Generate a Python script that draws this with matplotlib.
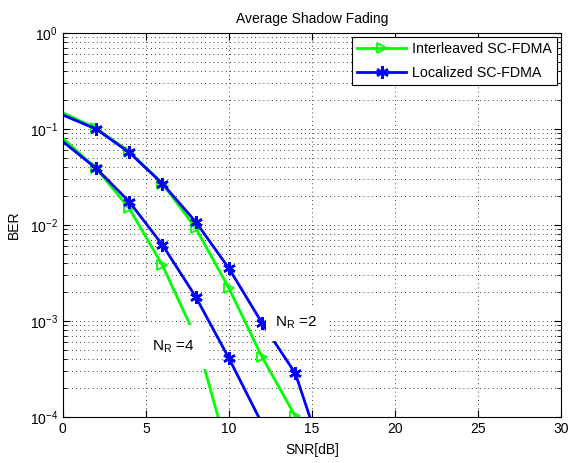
import matplotlib
matplotlib.use("Agg")
import matplotlib.pyplot as plt
from matplotlib.ticker import LogLocator, NullFormatter, FixedLocator

plt.rcParams["font.family"] = ["Liberation Sans", "DejaVu Sans"]
plt.rcParams["mathtext.fontset"] = "custom"
plt.rcParams["mathtext.rm"] = "Liberation Sans"

snr = [0, 2, 4, 6, 8, 10, 12, 14, 16]
inter_nr2 = [0.147, 0.102, 0.058, 0.027, 0.0093, 0.0022, 4.2e-4, 1.02e-4, 2.5e-5]
local_nr2 = [0.140, 0.100, 0.057, 0.027, 0.0108, 0.00354, 9.5e-4, 2.85e-4, 2.6e-5]
inter_nr4 = [0.080, 0.039, 0.0149, 0.0038, 6.8e-4, 4.0e-5, 3e-6, 2e-7, 1e-8]
local_nr4 = [0.074, 0.039, 0.0175, 0.0062, 0.00179, 4.1e-4, 8.5e-5, 1.5e-5, 2e-6]

GREEN = "#00ff00"
BLUE = "#0000ff"
ASTER = (6, 2, 0)

fig = plt.figure(figsize=(5.71, 4.63), dpi=100)
ax = fig.add_axes([0.110, 0.0994, 0.8725, 0.8293])

mk = dict(markevery=slice(1, None), linewidth=2)
ax.semilogy(snr, inter_nr2, color=GREEN, marker=">", markerfacecolor="none",
            markersize=7, markeredgewidth=1.3, label="Interleaved SC-FDMA", **mk)
ax.semilogy(snr, local_nr2, color=BLUE, marker=ASTER, markersize=9,
            markeredgewidth=1.8, label="Localized SC-FDMA", **mk)
ax.semilogy(snr, inter_nr4, color=GREEN, marker=">", markerfacecolor="none",
            markersize=7, markeredgewidth=1.3, **mk)
ax.semilogy(snr, local_nr4, color=BLUE, marker=ASTER, markersize=9,
            markeredgewidth=1.8, **mk)

ax.set_xlim(0, 30)
ax.set_ylim(1e-4, 1)
ax.xaxis.set_major_locator(FixedLocator([0, 5, 10, 15, 20, 25, 30]))
ax.yaxis.set_major_locator(LogLocator(base=10, numticks=10))
ax.yaxis.set_minor_locator(LogLocator(base=10, subs=range(2, 10), numticks=10))
ax.yaxis.set_minor_formatter(NullFormatter())

ax.grid(True, which="major", linestyle=(0, (1, 4)), color="black", linewidth=0.6)
ax.grid(True, which="minor", axis="y", linestyle=(0, (1, 4)), color="black", linewidth=0.6)

ax.tick_params(which="both", direction="in", top=True, right=True, labelsize=10)
ax.tick_params(which="major", length=5)
ax.tick_params(which="minor", length=3)
for s in ax.spines.values():
    s.set_linewidth(0.8)

ax.set_title("Average Shadow Fading", fontsize=10, pad=7)
ax.set_xlabel("SNR[dB]", fontsize=10, labelpad=5)
ax.set_ylabel("BER", fontsize=10, labelpad=6)

ax.text(12.8, 10**-3.02, r"N$_\mathregular{R}$ =2", fontsize=11, va="center", ha="left",
        bbox=dict(facecolor="white", edgecolor="none", pad=7), zorder=5)
ax.text(5.4, 10**-3.27, r"N$_\mathregular{R}$ =4", fontsize=11, va="center", ha="left",
        bbox=dict(facecolor="white", edgecolor="none", pad=10), zorder=5)

leg = ax.legend(loc="upper right", fontsize=10.3, fancybox=False, framealpha=1,
                edgecolor="black", borderaxespad=0.3, handlelength=3.4,
                borderpad=0.35, labelspacing=0.65, handletextpad=0.4)
leg.get_frame().set_linewidth(0.8)

fig.savefig("out.png", dpi=100)
